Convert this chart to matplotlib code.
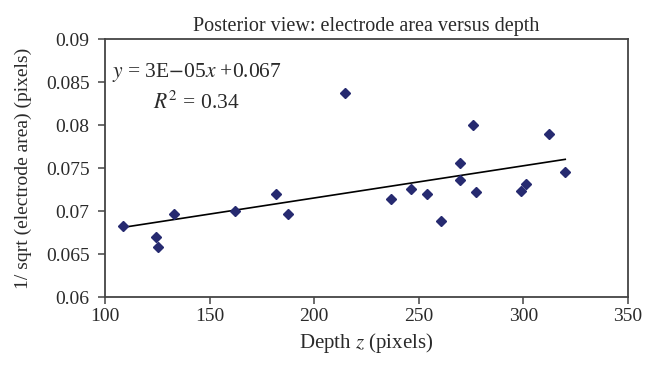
import matplotlib
matplotlib.use("Agg")
import matplotlib.pyplot as plt
import numpy as np

depth = [108.8, 124.4, 125.5, 133.0, 161.9, 181.8, 187.7, 214.7, 236.8, 246.1,
         254.1, 260.8, 269.9, 269.9, 276.1, 277.2, 298.9, 301.1, 312.3, 320.0]
inv_sqrt_area = [0.0683, 0.0670, 0.0658, 0.0697, 0.0700, 0.0720, 0.0697, 0.0838, 0.0714, 0.0726,
                 0.0720, 0.0689, 0.0756, 0.0736, 0.0800, 0.0722, 0.0724, 0.0732, 0.0790, 0.0746]
x_ticks = [100, 150, 200, 250, 300, 350]
y_ticks = [0.06, 0.065, 0.07, 0.075, 0.08, 0.085, 0.09]
y_tick_labels = ["0.06", "0.065", "0.07", "0.075", "0.08", "0.085", "0.09"]

plt.rcParams['font.family'] = ['Liberation Serif', 'DejaVu Serif']
plt.rcParams['mathtext.fontset'] = 'stix'

fig = plt.figure(figsize=(6.58, 3.67), dpi=100)
ax = fig.add_axes([0.1596, 0.1907, 0.7948, 0.7017])

x = np.array(depth)
y = np.array(inv_sqrt_area)
ax.plot(x, y, linestyle='none', marker='D', markersize=5.5,
        markerfacecolor='#262a70', markeredgecolor='#262a70', zorder=3)

slope, intercept = np.polyfit(x, y, 1)
xl = np.array([x.min(), x.max()])
ax.plot(xl, slope * xl + intercept, color='black', linewidth=1.2, zorder=2)

ax.set_xlim(100, 350)
ax.set_ylim(0.06, 0.09)
ax.set_xticks(x_ticks)
ax.set_xticklabels([str(t) for t in x_ticks])
ax.set_yticks(y_ticks)
ax.set_yticklabels(y_tick_labels)

for s in ax.spines.values():
    s.set_color('#444444')
    s.set_linewidth(1.3)
ax.tick_params(direction='out', length=5, width=1.1, color='#444444',
               labelsize=14, labelcolor='#2a2a2a', pad=3)
ax.tick_params(axis='y', pad=6)

ax.set_xlabel("Depth $z$ (pixels)", fontsize=15, color='#2a2a2a', labelpad=4)
ax.set_ylabel("1/ sqrt (electrode area) (pixels)", fontsize=14, color='#2a2a2a', labelpad=10)
ax.set_title("Posterior view: electrode area versus depth", fontsize=14.5, color='#2a2a2a', pad=6)

ax.text(0.013, 0.872, "$y$ = 3E$-$05$x$ +0.067", transform=ax.transAxes,
        fontsize=15.5, color='#2a2a2a', va='center', ha='left')
ax.text(0.092, 0.756, "$R^2$ = 0.34", transform=ax.transAxes,
        fontsize=15.5, color='#2a2a2a', va='center', ha='left')

fig.savefig("out.png", dpi=100)
